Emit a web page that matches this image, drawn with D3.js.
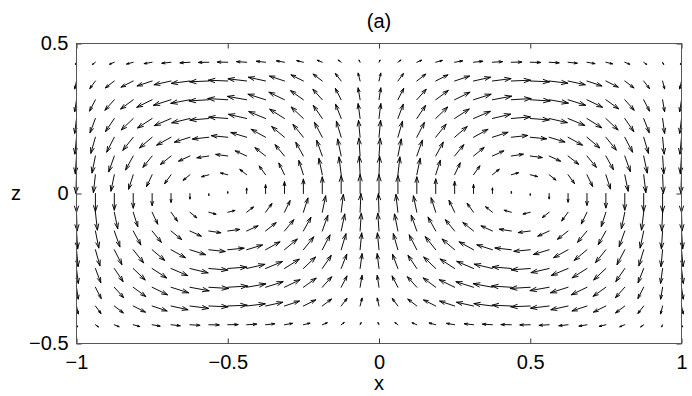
<!DOCTYPE html>
<html><head><meta charset="utf-8">
<script src="https://cdn.jsdelivr.net/npm/d3@7"></script>
<style>
html,body{margin:0;padding:0;background:#fff;}
text{font-family:"Liberation Sans",Arial,Helvetica,sans-serif;}
</style></head>
<body><svg id="chart" width="692" height="396"></svg>
<script>
// grid coordinates
const xs = [-1,-0.9375,-0.875,-0.8125,-0.75,-0.6875,-0.625,-0.5625,-0.5,-0.4375,-0.375,-0.3125,-0.25,-0.1875,-0.125,-0.0625,0,0.0625,0.125,0.1875,0.25,0.3125,0.375,0.4375,0.5,0.5625,0.625,0.6875,0.75,0.8125,0.875,0.9375,1];
const zs = [0.4375,0.375,0.3125,0.25,0.1875,0.125,0.0625,0,-0.0625,-0.125,-0.1875,-0.25,-0.3125,-0.375,-0.4375];
const xTicks = [-1,-0.5,0,0.5,1];
const zTicks = [-0.5,0,0.5];
const title = "(a)";
const xLabel = "x";
const zLabel = "z";
// horizontal velocity u, one row per z (top to bottom)
const U = [
[-.05,-.15,-.24,-.33,-.40,-.46,-.50,-.52,-.52,-.50,-.46,-.40,-.33,-.25,-.15,-.05,.05,.15,.24,.33,.40,.46,.50,.52,.52,.50,.46,.40,.33,.25,.15,.05,-.05],
[-.09,-.28,-.45,-.61,-.75,-.85,-.93,-.96,-.97,-.93,-.86,-.75,-.62,-.46,-.29,-.10,.09,.28,.45,.61,.75,.85,.93,.96,.97,.93,.86,.75,.62,.46,.29,.10,-.09],
[-.09,-.29,-.47,-.63,-.77,-.88,-.96,-.99,-1.0,-.96,-.88,-.78,-.64,-.47,-.29,-.10,.09,.29,.47,.63,.77,.88,.96,.99,1.0,.96,.88,.78,.64,.47,.29,.10,-.09],
[-.09,-.27,-.44,-.60,-.73,-.84,-.91,-.95,-.95,-.91,-.84,-.74,-.61,-.45,-.28,-.10,.09,.27,.44,.60,.73,.84,.91,.95,.95,.91,.84,.74,.61,.45,.28,.10,-.09],
[-.08,-.23,-.38,-.52,-.63,-.72,-.78,-.82,-.82,-.79,-.72,-.64,-.52,-.39,-.24,-.08,.08,.23,.38,.52,.63,.72,.78,.82,.82,.79,.72,.64,.52,.39,.24,.08,-.08],
[-.06,-.17,-.28,-.38,-.46,-.53,-.57,-.60,-.60,-.57,-.53,-.47,-.38,-.28,-.18,-.06,.06,.17,.28,.38,.46,.53,.57,.60,.60,.57,.53,.47,.38,.28,.18,.06,-.06],
[-.03,-.10,-.17,-.23,-.28,-.32,-.34,-.36,-.36,-.34,-.32,-.28,-.23,-.17,-.11,-.04,.03,.10,.17,.23,.28,.32,.34,.36,.36,.34,.32,.28,.23,.17,.11,.04,-.03],
[0,0,0,0,0,0,0,0,0,0,0,0,0,0,0,0,0,0,0,0,0,0,0,0,0,0,0,0,0,0,0,0,0],
[.03,.10,.17,.23,.28,.32,.34,.36,.36,.34,.32,.28,.23,.17,.11,.04,-.03,-.10,-.17,-.23,-.28,-.32,-.34,-.36,-.36,-.34,-.32,-.28,-.23,-.17,-.11,-.04,.03],
[.06,.17,.28,.38,.46,.53,.57,.60,.60,.57,.53,.47,.38,.28,.18,.06,-.06,-.17,-.28,-.38,-.46,-.53,-.57,-.60,-.60,-.57,-.53,-.47,-.38,-.28,-.18,-.06,.06],
[.08,.23,.38,.52,.63,.72,.78,.82,.82,.79,.72,.64,.52,.39,.24,.08,-.08,-.23,-.38,-.52,-.63,-.72,-.78,-.82,-.82,-.79,-.72,-.64,-.52,-.39,-.24,-.08,.08],
[.09,.27,.44,.60,.73,.84,.91,.95,.95,.91,.84,.74,.61,.45,.28,.10,-.09,-.27,-.44,-.60,-.73,-.84,-.91,-.95,-.95,-.91,-.84,-.74,-.61,-.45,-.28,-.10,.09],
[.09,.29,.47,.63,.77,.88,.96,.99,1.0,.96,.88,.78,.64,.47,.29,.10,-.09,-.29,-.47,-.63,-.77,-.88,-.96,-.99,-1.0,-.96,-.88,-.78,-.64,-.47,-.29,-.10,.09],
[.09,.28,.45,.61,.75,.85,.93,.96,.97,.93,.86,.75,.62,.46,.29,.10,-.09,-.28,-.45,-.61,-.75,-.85,-.93,-.96,-.97,-.93,-.86,-.75,-.62,-.46,-.29,-.10,.09],
[.05,.15,.24,.33,.40,.46,.50,.52,.52,.50,.46,.40,.33,.25,.15,.05,-.05,-.15,-.24,-.33,-.40,-.46,-.50,-.52,-.52,-.50,-.46,-.40,-.33,-.25,-.15,-.05,.05]
];
// vertical velocity w, one row per z (top to bottom)
const W = [
[-.11,-.11,-.10,-.09,-.07,-.05,-.03,-.01,.01,.03,.05,.07,.08,.10,.11,.11,.11,.11,.10,.09,.07,.05,.03,.01,-.01,-.03,-.05,-.07,-.08,-.10,-.11,-.11,-.11],
[-.40,-.38,-.35,-.31,-.25,-.19,-.12,-.04,.04,.11,.19,.25,.31,.35,.38,.40,.40,.38,.35,.31,.25,.19,.12,.04,-.04,-.11,-.19,-.25,-.31,-.35,-.38,-.40,-.40],
[-.60,-.57,-.53,-.47,-.38,-.28,-.18,-.06,.06,.17,.28,.38,.46,.53,.57,.60,.60,.57,.53,.47,.38,.28,.18,.06,-.06,-.17,-.28,-.38,-.46,-.53,-.57,-.60,-.60],
[-.75,-.72,-.66,-.58,-.48,-.36,-.22,-.08,.07,.21,.35,.47,.58,.66,.72,.75,.75,.72,.66,.58,.48,.36,.22,.08,-.07,-.21,-.35,-.47,-.58,-.66,-.72,-.75,-.75],
[-.85,-.81,-.75,-.66,-.54,-.40,-.25,-.09,.08,.24,.40,.54,.65,.75,.81,.85,.85,.81,.75,.66,.54,.40,.25,.09,-.08,-.24,-.40,-.54,-.65,-.75,-.81,-.85,-.85],
[-.90,-.86,-.80,-.70,-.57,-.43,-.26,-.09,.08,.26,.42,.57,.69,.79,.86,.90,.90,.86,.80,.70,.57,.43,.26,.09,-.08,-.26,-.42,-.57,-.69,-.79,-.86,-.90,-.90],
[-.94,-.90,-.83,-.73,-.60,-.45,-.28,-.10,.09,.27,.44,.59,.72,.83,.90,.94,.94,.90,.83,.73,.60,.45,.28,.10,-.09,-.27,-.44,-.59,-.72,-.83,-.90,-.94,-.94],
[-.95,-.91,-.84,-.74,-.61,-.45,-.28,-.10,.09,.27,.44,.60,.73,.84,.91,.95,.95,.91,.84,.74,.61,.45,.28,.10,-.09,-.27,-.44,-.60,-.73,-.84,-.91,-.95,-.95],
[-.94,-.90,-.83,-.73,-.60,-.45,-.28,-.10,.09,.27,.44,.59,.72,.83,.90,.94,.94,.90,.83,.73,.60,.45,.28,.10,-.09,-.27,-.44,-.59,-.72,-.83,-.90,-.94,-.94],
[-.90,-.86,-.80,-.70,-.57,-.43,-.26,-.09,.08,.26,.42,.57,.69,.79,.86,.90,.90,.86,.80,.70,.57,.43,.26,.09,-.08,-.26,-.42,-.57,-.69,-.79,-.86,-.90,-.90],
[-.85,-.81,-.75,-.66,-.54,-.40,-.25,-.09,.08,.24,.40,.54,.65,.75,.81,.85,.85,.81,.75,.66,.54,.40,.25,.09,-.08,-.24,-.40,-.54,-.65,-.75,-.81,-.85,-.85],
[-.75,-.72,-.66,-.58,-.48,-.36,-.22,-.08,.07,.21,.35,.47,.58,.66,.72,.75,.75,.72,.66,.58,.48,.36,.22,.08,-.07,-.21,-.35,-.47,-.58,-.66,-.72,-.75,-.75],
[-.60,-.57,-.53,-.47,-.38,-.28,-.18,-.06,.06,.17,.28,.38,.46,.53,.57,.60,.60,.57,.53,.47,.38,.28,.18,.06,-.06,-.17,-.28,-.38,-.46,-.53,-.57,-.60,-.60],
[-.40,-.38,-.35,-.31,-.25,-.19,-.12,-.04,.04,.11,.19,.25,.31,.35,.38,.40,.40,.38,.35,.31,.25,.19,.12,.04,-.04,-.11,-.19,-.25,-.31,-.35,-.38,-.40,-.40],
[-.11,-.11,-.10,-.09,-.07,-.05,-.03,-.01,.01,.03,.05,.07,.08,.10,.11,.11,.11,.11,.10,.09,.07,.05,.03,.01,-.01,-.03,-.05,-.07,-.08,-.10,-.11,-.11,-.11]
];

const svg = d3.select("#chart");
const L = 76.5, R = 681.5, T = 43.5, B = 343.5;
const x = d3.scaleLinear().domain([-1, 1]).range([L, R]);
const y = d3.scaleLinear().domain([-0.5, 0.5]).range([B, T]);
const arrowScale = 0.066; // quiver scale in axis units per velocity unit
const fmt = d => (d < 0 ? "\u2212" : "") + String(Math.abs(d));

// arrows
const vecs = [];
zs.forEach((z, i) => xs.forEach((xv, j) => vecs.push({x: xv, z: z, u: U[i][j], w: W[i][j]})));
const alpha = 0.33, beta = 0.33;
const g = svg.append("g");
g.selectAll("path.arrow").data(vecs).join("path")
  .attr("class", "arrow")
  .attr("fill", "none")
  .attr("stroke", "#000")
  .attr("stroke-width", 0.95)
  .attr("stroke-linecap", "round")
  .attr("d", d => {
    const x0 = x(d.x), y0 = y(d.z);
    const x1 = x(d.x + d.u * arrowScale), y1 = y(d.z + d.w * arrowScale);
    const px = x1 - x0, py = y1 - y0;
    const h1x = x1 - alpha * (px + beta * py), h1y = y1 - alpha * (py - beta * px);
    const h2x = x1 - alpha * (px - beta * py), h2y = y1 - alpha * (py + beta * px);
    return `M${x0},${y0}L${x1},${y1}M${h1x},${h1y}L${x1},${y1}L${h2x},${h2y}`;
  });

// axes (ticks inside)
const axStyle = sel => {
  sel.select(".domain").remove();
  sel.selectAll(".tick line").attr("stroke", "#333").attr("stroke-width", 1);
  sel.selectAll(".tick text").attr("fill", "#000").style("font-size", "20px")
     .style("font-family", '"Liberation Sans", Arial, Helvetica, sans-serif');
};
svg.append("g").attr("transform", `translate(0,${B})`)
  .call(d3.axisBottom(x).tickValues(xTicks).tickFormat(fmt).tickSizeInner(-5).tickSizeOuter(0).tickPadding(11))
  .call(axStyle);
svg.append("g").attr("transform", `translate(0,${T})`)
  .call(d3.axisTop(x).tickValues(xTicks).tickFormat("").tickSizeInner(-5).tickSizeOuter(0))
  .call(axStyle);
svg.append("g").attr("transform", `translate(${L},0)`)
  .call(d3.axisLeft(y).tickValues(zTicks).tickFormat(fmt).tickSizeInner(-5).tickSizeOuter(0).tickPadding(8))
  .call(axStyle);
svg.append("g").attr("transform", `translate(${R},0)`)
  .call(d3.axisRight(y).tickValues(zTicks).tickFormat("").tickSizeInner(-5).tickSizeOuter(0))
  .call(axStyle);

svg.append("rect").attr("x", L).attr("y", T).attr("width", R - L).attr("height", B - T)
  .attr("fill", "none").attr("stroke", "#555").attr("stroke-width", 1);

svg.append("text").attr("x", x(0)).attr("y", 28).attr("text-anchor", "middle")
  .style("font-size", "20px").text(title);
svg.append("text").attr("x", x(0)).attr("y", 390).attr("text-anchor", "middle")
  .style("font-size", "20px").text(xLabel);
svg.append("text").attr("x", 16).attr("y", y(0) + 6).attr("text-anchor", "middle")
  .style("font-size", "20px").text(zLabel);
</script>
</body></html>
